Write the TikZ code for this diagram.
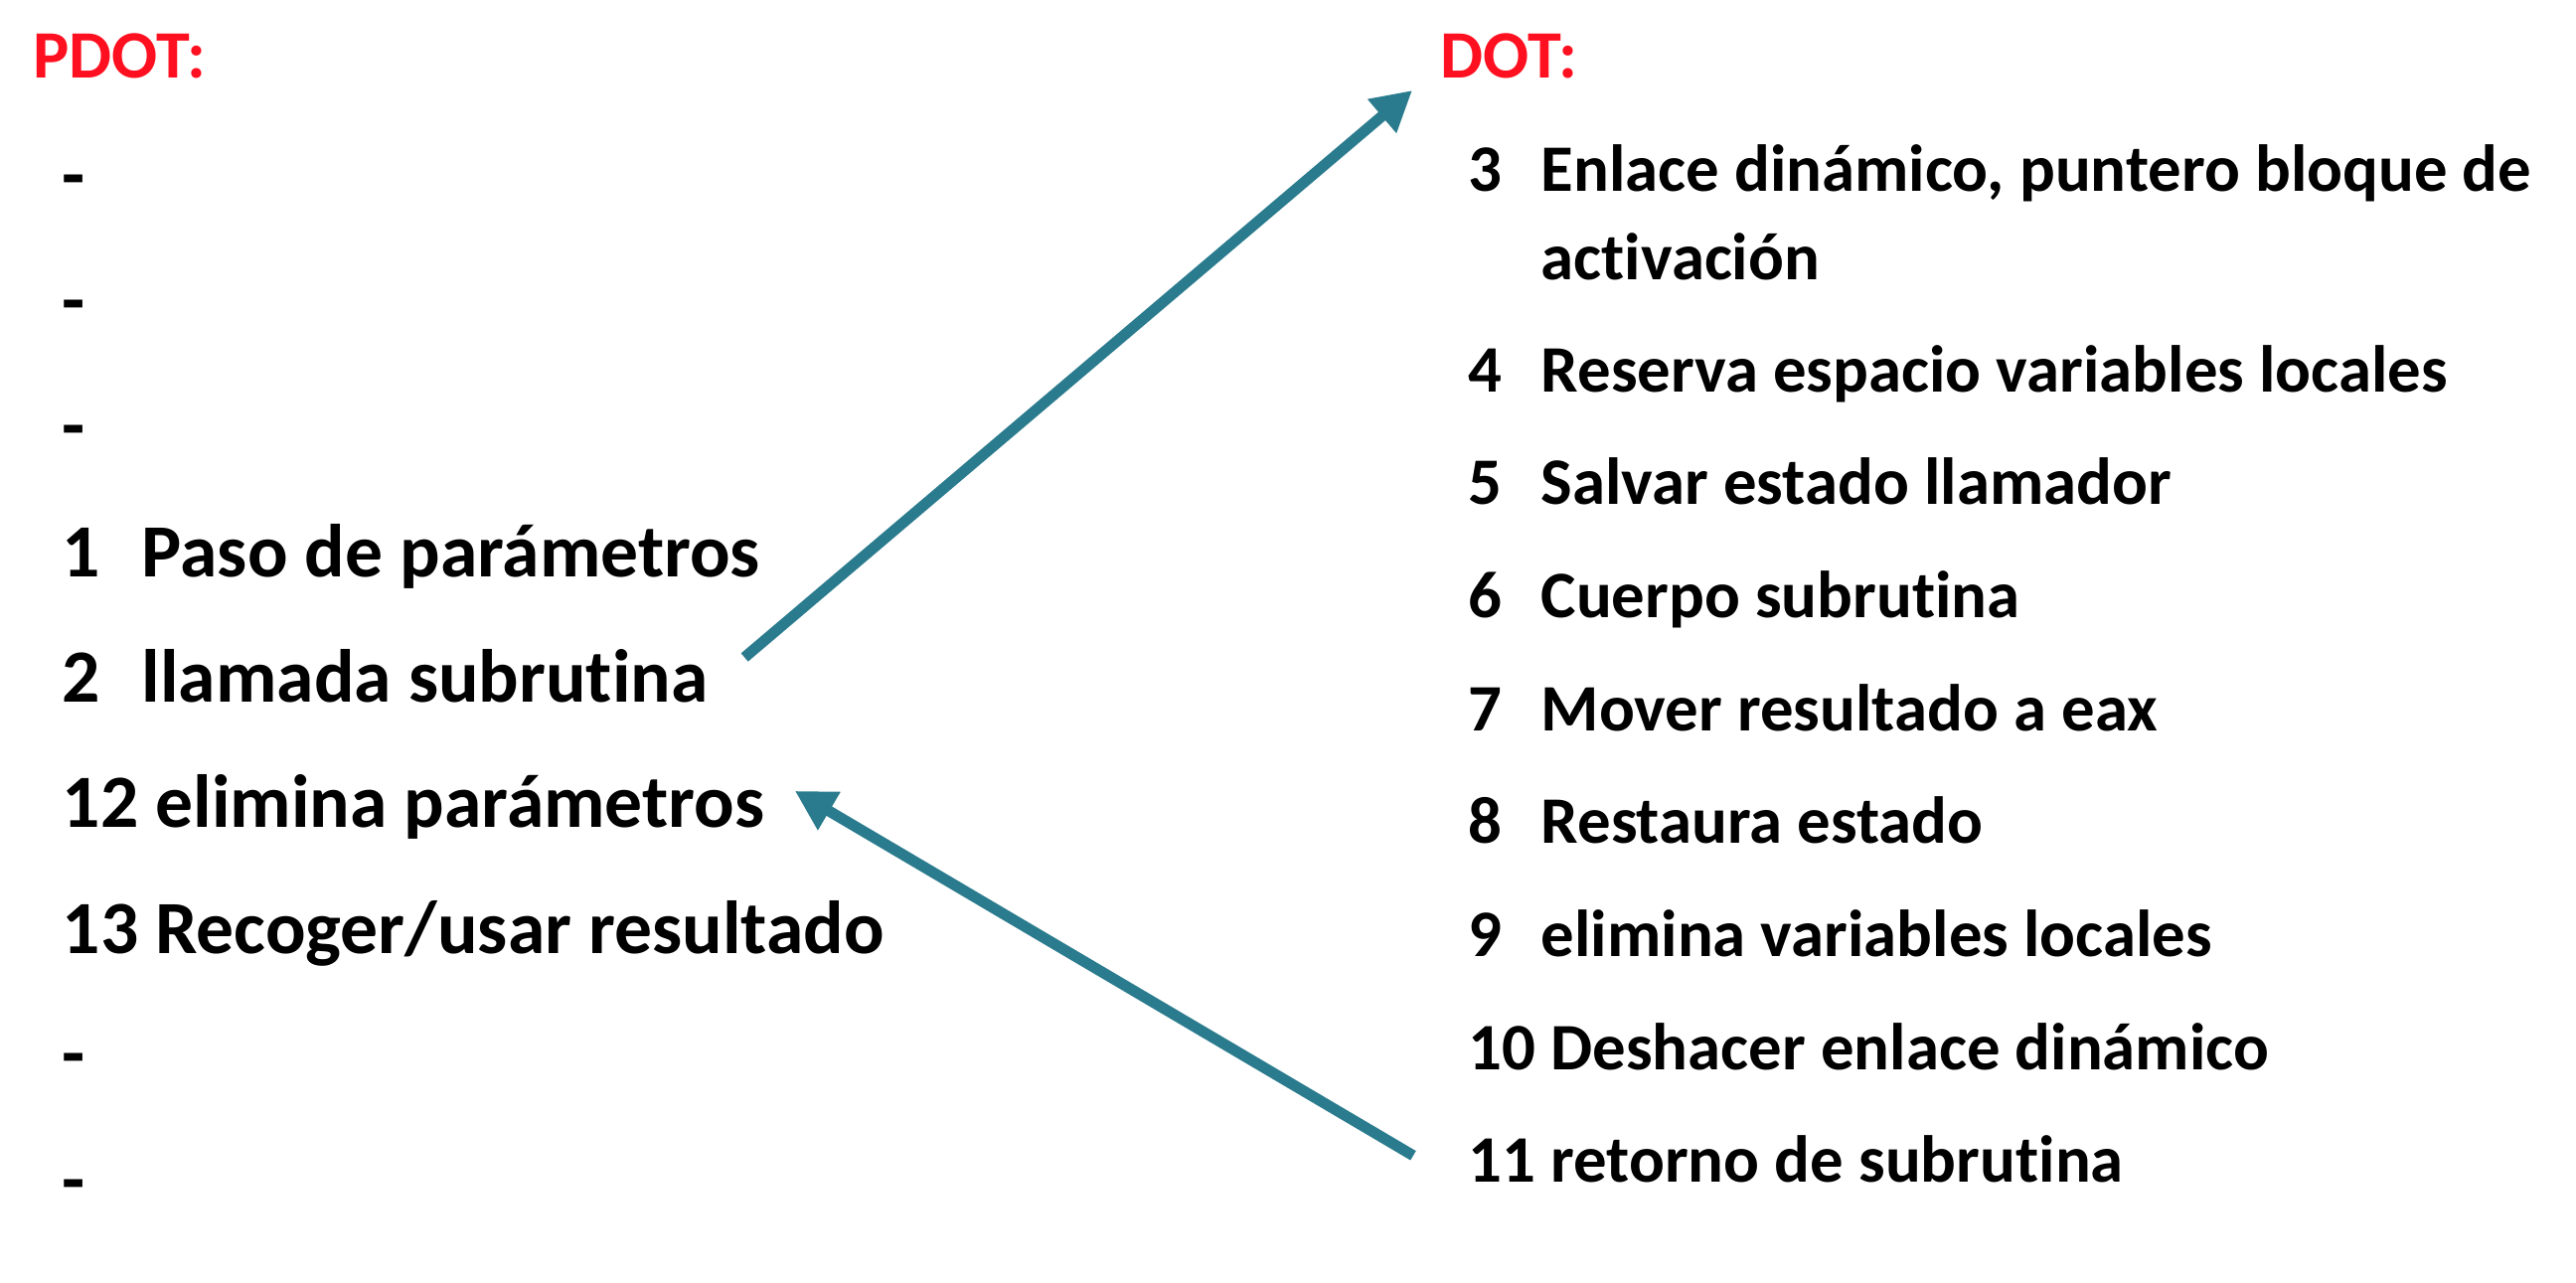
\documentclass[tikz,border=0pt]{standalone}
\usepackage{fontspec}
\setmainfont{Carlito}[RawFeature={-liga;-clig;-calt}]
\usetikzlibrary{positioning,arrows.meta}

\definecolor{rojo}{HTML}{FF1020}
\definecolor{azulflecha}{HTML}{2A7B8D}

\begin{document}
\begin{tikzpicture}[x=0.01cm,y=-0.01cm,
    titulo/.style={anchor=base west,inner sep=0pt,text=rojo,font=\bfseries\fontsize{19.4}{23}\selectfont},
    izq/.style={anchor=base west,inner sep=0pt,font=\bfseries\fontsize{21.5}{25}\selectfont},
    der/.style={anchor=base west,inner sep=0pt,font=\bfseries\fontsize{19}{22}\selectfont},
    salto/.style={azulflecha,line width=3.1pt,-{Triangle[length=0.4cm,width=0.42cm]}}]
    \useasboundingbox (0,0) rectangle (2592,1290);

    % pila del llamador
    \node[titulo] (pdot) at (33,78) {PDOT:};
    \node[izq] (g1) at (62,201) {-};
    \node[below=1.263cm of g1.base west,izq] (g2) {-};
    \node[below=1.263cm of g2.base west,izq] (g3) {-};
    \node[below=1.263cm of g3.base west,izq] (l1) {\makebox[0.8cm][l]{1}Paso de parámetros};
    \node[below=1.263cm of l1.base west,izq] (l2) {\makebox[0.8cm][l]{2}llamada subrutina};
    \node[below=1.263cm of l2.base west,izq] (l12) {12 elimina parámetros};
    \node[below=1.263cm of l12.base west,izq] (l13) {13 Recoger/usar resultado};
    \node[below=1.263cm of l13.base west,izq] (g4) {-};
    \node[below=1.263cm of g4.base west,izq] (g5) {-};

    % subrutina
    \node[titulo] (dot) at (1449,78) {DOT:};
    \node[der] (d3) at (1477,192) {\makebox[0.73cm][l]{3}Enlace dinámico, puntero bloque de};
    \node[below=0.89cm of d3.base west,der,xshift=0.73cm] (d3b) {activación};
    \node[below=2.02cm of d3.base west,der] (d4) {\makebox[0.73cm][l]{4}Reserva espacio variables locales};
    \node[below=1.136cm of d4.base west,der] (d5) {\makebox[0.73cm][l]{5}Salvar estado llamador};
    \node[below=1.136cm of d5.base west,der] (d6) {\makebox[0.73cm][l]{6}Cuerpo subrutina};
    \node[below=1.136cm of d6.base west,der] (d7) {\makebox[0.73cm][l]{7}Mover resultado a eax};
    \node[below=1.136cm of d7.base west,der] (d8) {\makebox[0.73cm][l]{8}Restaura estado};
    \node[below=1.136cm of d8.base west,der] (d9) {\makebox[0.73cm][l]{9}elimina variables locales};
    \node[below=1.136cm of d9.base west,der] (d10) {10 Deshacer enlace dinámico};
    \node[below=1.136cm of d10.base west,der] (d11) {11 retorno de subrutina};

    \draw[salto] ([xshift=0.36cm,yshift=0.45cm]l2.base east) -- ([xshift=-0.28cm,yshift=-0.13cm]dot.base west);
    \draw[salto] ([xshift=-0.55cm,yshift=0.27cm]d11.base west) -- ([xshift=0.30cm,yshift=0.37cm]l12.base east);
\end{tikzpicture}
\end{document}
